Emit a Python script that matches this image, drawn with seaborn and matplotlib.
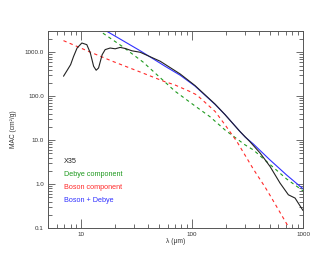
import matplotlib
matplotlib.use("Agg")
import matplotlib.pyplot as plt
import matplotlib.ticker as mticker
import seaborn as sns
import pandas as pd

# X35 measured MAC
obs_wl = [6.9, 7.5, 8.0, 8.5, 9.15, 10.1, 11.2, 12.05, 12.9, 13.6, 14.3, 15.4, 16.4, 18.2,
          20.2, 22.4, 24.9, 28.6, 34.0, 51.5, 78.0, 106.0, 161.0, 198.0, 270.0, 331.0,
          410.0, 505.0, 621.0, 738.0, 848.0, 990.0, 1000.0]
obs_mac = [285, 400, 523, 800, 1250, 1626, 1490, 965, 480, 390, 440, 880, 1150, 1250,
           1200, 1290, 1220, 1080, 1000, 624, 320, 175, 66, 38, 15.7, 9.3,
           5.1, 2.5, 1.05, 0.57, 0.48, 0.26, 0.25]

# Debye component
deb_wl = [14.0, 14.8, 23.3, 36.0, 70.0, 106.0, 145.0, 198.0, 300.0, 356.0, 713.0, 972.0, 1000.0]
deb_mac = [3350, 3000, 1370, 600, 130, 60, 34, 17, 7.8, 6.0, 1.3, 0.74, 0.7]

# Boson component
bos_wl = [6.9, 11.6, 18.9, 35.0, 55.0, 70.0, 96.0, 110.0, 161.0, 198.0, 253.0, 311.0,
          356.0, 455.0, 505.0, 738.0, 770.0]
bos_mac = [1840, 1050, 630, 345, 220, 180, 127, 107, 45, 22.3, 9.3, 3.9,
           2.2, 0.85, 0.55, 0.107, 0.085]

# Boson + Debye
sum_wl = [16.3, 17.0, 25.0, 34.0, 57.0, 78.0, 106.0, 161.0, 198.0, 270.0, 300.0, 356.0,
          500.0, 713.0, 1000.0]
sum_mac = [3300, 3000, 1700, 1080, 480, 300, 170, 65, 38, 15.7, 11.8, 8.2,
           3.6, 1.6, 0.78]

y_ticks = [0.1, 1, 10, 100, 1000]
y_tick_labels = ["0.1", "1.0", "10.0", "100.0", "1000.0"]
x_ticks = [10, 100, 1000]
x_tick_labels = ["10", "100", "1000"]

sns.set_style("ticks")
plt.rcParams["font.family"] = ["Liberation Sans", "DejaVu Sans"]

fig = plt.figure(figsize=(3.29, 2.63), dpi=100)
ax = fig.add_axes([48 / 329, 1 - 228 / 263, 255 / 329, 197 / 263])

green = "#1f9a1f"
red = "#ff2a2a"
blue = "#3030ff"

sns.lineplot(data=pd.DataFrame({"wl": deb_wl, "mac": deb_mac}), x="wl", y="mac", ax=ax,
             color=green, lw=0.8, linestyle=(0, (3, 3)), estimator=None)
sns.lineplot(data=pd.DataFrame({"wl": bos_wl, "mac": bos_mac}), x="wl", y="mac", ax=ax,
             color=red, lw=0.8, linestyle=(0, (3, 3)), estimator=None)
sns.lineplot(data=pd.DataFrame({"wl": sum_wl, "mac": sum_mac}), x="wl", y="mac", ax=ax,
             color=blue, lw=0.8, estimator=None)
sns.lineplot(data=pd.DataFrame({"wl": obs_wl, "mac": obs_mac}), x="wl", y="mac", ax=ax,
             color="#222222", lw=0.8, estimator=None)

ax.set_xscale("log")
ax.set_yscale("log")
ax.set_xlim(5, 1000)
ax.set_ylim(0.1, 3050)

ax.yaxis.set_major_locator(mticker.FixedLocator(y_ticks))
ax.yaxis.set_major_formatter(mticker.FixedFormatter(y_tick_labels))
ax.xaxis.set_major_locator(mticker.FixedLocator(x_ticks))
ax.xaxis.set_major_formatter(mticker.FixedFormatter(x_tick_labels))
ax.xaxis.set_minor_locator(mticker.LogLocator(base=10, subs=range(2, 10), numticks=20))
ax.yaxis.set_minor_locator(mticker.LogLocator(base=10, subs=range(2, 10), numticks=20))
ax.xaxis.set_minor_formatter(mticker.NullFormatter())
ax.yaxis.set_minor_formatter(mticker.NullFormatter())

ax.tick_params(which="both", direction="in", top=True, right=True, width=0.6,
               color="#555555", labelsize=4.5, labelcolor="#333333", pad=3)
ax.tick_params(axis="x", which="major", length=6.5)
ax.tick_params(axis="y", which="major", length=5)
ax.tick_params(which="minor", length=3)
for s in ax.spines.values():
    s.set_linewidth(0.7)
    s.set_color("#555555")

ax.set_xlabel("λ (μm)", fontsize=4.8, color="#333333")
ax.set_ylabel("MAC (cm²/g)", fontsize=4.8, color="#333333")
ax.xaxis.set_label_coords(0.5, -0.05)
ax.yaxis.set_label_coords(-0.12, 0.5)

tx = 0.063
ax.text(tx, 0.34, "X35", transform=ax.transAxes, fontsize=5.2, color="#222222", va="center")
ax.text(tx, 0.274, "Debye component", transform=ax.transAxes, fontsize=5.2, color=green, va="center")
ax.text(tx, 0.208, "Boson component", transform=ax.transAxes, fontsize=5.2, color=red, va="center")
ax.text(tx, 0.142, "Boson + Debye", transform=ax.transAxes, fontsize=5.2, color=blue, va="center")

fig.savefig("out.png", dpi=100)
